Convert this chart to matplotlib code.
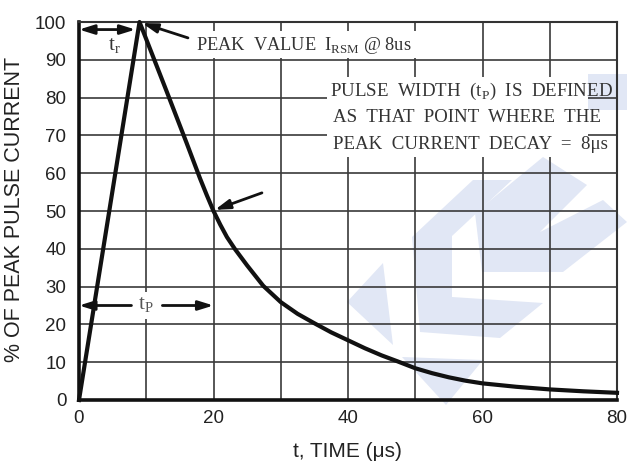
import matplotlib
matplotlib.use("Agg")
import matplotlib.pyplot as plt
from matplotlib.patches import Polygon, Rectangle

# ---- data ----
time_us = [0, 9, 13, 16, 18, 19, 20, 21, 22, 23.2, 25, 27.4, 30, 32.5, 35, 37.5, 40, 42.5, 45, 47.4,
           50, 52.5, 55, 57.5, 60, 65, 70, 75, 80]
pct_peak = [0, 100, 81.8, 68, 58.6, 54.2, 50, 46.4, 43.1, 39.9, 35.6, 30.2, 25.9, 22.8, 20.3, 17.9, 15.8,
            13.7, 11.8, 10.2, 8.4, 7.1, 6.0, 5.1, 4.4, 3.5, 2.8, 2.3, 1.9]
x_ticks = [0, 20, 40, 60, 80]
y_ticks = [0, 10, 20, 30, 40, 50, 60, 70, 80, 90, 100]
x_grid = [0, 10, 20, 30, 40, 50, 60, 70, 80]

W, H = 627, 466
fig = plt.figure(figsize=(W / 100, H / 100), dpi=100)
ax = fig.add_axes([79 / W, (H - 400) / H, 538 / W, 378 / H])

# light-blue watermark (figure pixel coords)
def fp(pts):
    return [(x / W, 1 - y / H) for x, y in pts]

wm_color = "#e1e7f5"
wm_shapes = [
    [(347, 302), (383, 263), (393, 345)],
    [(402, 357), (483, 360), (446, 405)],
    [(412, 237), (473, 180), (512, 180), (452, 236), (452, 297), (543, 303), (500, 338), (420, 332)],
    [(475, 213), (543, 157), (587, 185), (540, 232), (603, 200), (627, 222), (563, 272), (482, 272)],
    [(588, 74), (627, 74), (627, 110), (588, 110)],
]
for s in wm_shapes:
    ax.add_patch(Polygon(fp(s), closed=True, transform=fig.transFigure,
                         facecolor=wm_color, edgecolor="none", zorder=0.2, clip_on=False))

ax.set_xlim(0, 80)
ax.set_ylim(0, 100)
ax.set_xticks(x_ticks)
ax.set_yticks(y_ticks)
ax.set_xticks(x_grid, minor=True)
ax.grid(True, which="both", color="#3a3a3a", linewidth=1.2, zorder=0.5)
ax.set_axisbelow(True)
ax.tick_params(which="both", length=0)
ax.tick_params(axis="y", pad=9, labelsize=13.5, labelcolor="#222222")
ax.tick_params(axis="x", pad=7, labelsize=13.5, labelcolor="#222222")
for lab in ax.get_xticklabels() + ax.get_yticklabels():
    lab.set_fontfamily("Liberation Sans")

for side in ["top", "right"]:
    ax.spines[side].set_linewidth(1.5)
    ax.spines[side].set_color("#333333")
for side in ["left", "bottom"]:
    ax.spines[side].set_linewidth(2.6)
    ax.spines[side].set_color("#111111")

ax.set_ylabel("% OF PEAK PULSE CURRENT", fontfamily="Liberation Sans", fontsize=15.5, color="#222222")
ax.set_xlabel("t, TIME (μs)", fontfamily="Liberation Sans", fontsize=15, color="#222222")
ax.yaxis.set_label_coords(-0.1, 0.505)
ax.xaxis.set_label_coords(0.499, -0.111)

# white boxes behind annotation text
ax.add_patch(Rectangle((16.5, 90.4), 34.9, 7.1, facecolor="white", edgecolor="none", zorder=1.5))
ax.add_patch(Rectangle((36.9, 64.3), 38.8, 21.1, facecolor="white", edgecolor="none", zorder=1.5))

# curve
ax.plot(time_us, pct_peak, color="#111111", linewidth=3.0, solid_joinstyle="round", zorder=3, clip_on=False)

serif = "Liberation Serif"
ak = dict(arrowstyle="-|>,head_length=0.9,head_width=0.28", color="#111111", lw=2.0,
          shrinkA=0, shrinkB=0)
ak2 = dict(arrowstyle="<|-|>,head_length=0.9,head_width=0.28", color="#111111", lw=2.0,
           shrinkA=0, shrinkB=0)

# t_r
ax.annotate("", xy=(8.4, 98), xytext=(0, 98), arrowprops=ak2, zorder=4)
ax.text(5.3, 93.6, r"t$_\mathregular{r}$", fontfamily=serif, fontsize=15, color="#333333",
        ha="center", va="center", zorder=4)

# peak annotation
ax.annotate("", xy=(9.4, 99.7), xytext=(16.2, 95.8), arrowprops=ak, zorder=4)
ax.text(17.4, 93.9, r"PEAK  VALUE  I$_\mathregular{RSM}$ @ 8us", fontfamily=serif, fontsize=13.2,
        color="#333333", ha="left", va="center", zorder=4)

# pulse width text
fs = 13.6
ax.text(37.3, 81.7, r"PULSE  WIDTH  (t$_\mathregular{P}$)  IS  DEFINED", fontfamily=serif, fontsize=fs,
        color="#333333", ha="left", va="center", zorder=4)
ax.text(37.8, 74.7, "AS  THAT  POINT  WHERE  THE", fontfamily=serif, fontsize=fs,
        color="#333333", ha="left", va="center", zorder=4)
ax.text(37.8, 67.6, "PEAK  CURRENT  DECAY  =  8μs", fontfamily=serif, fontsize=fs,
        color="#333333", ha="left", va="center", zorder=4)

# 50% arrow
ax.annotate("", xy=(20.2, 50.3), xytext=(27.2, 54.8), arrowprops=ak, zorder=4)

# t_p arrows
ax.annotate("", xy=(0, 25), xytext=(7.8, 25), arrowprops=ak, zorder=4)
ax.annotate("", xy=(20, 25), xytext=(12.4, 25), arrowprops=ak, zorder=4)
ax.text(10, 25, r"t$_\mathregular{P}$", fontfamily=serif, fontsize=15, color="#555555",
        ha="center", va="center", zorder=4,
        bbox=dict(facecolor="white", edgecolor="none", pad=3))

fig.savefig("out.png", dpi=100)
